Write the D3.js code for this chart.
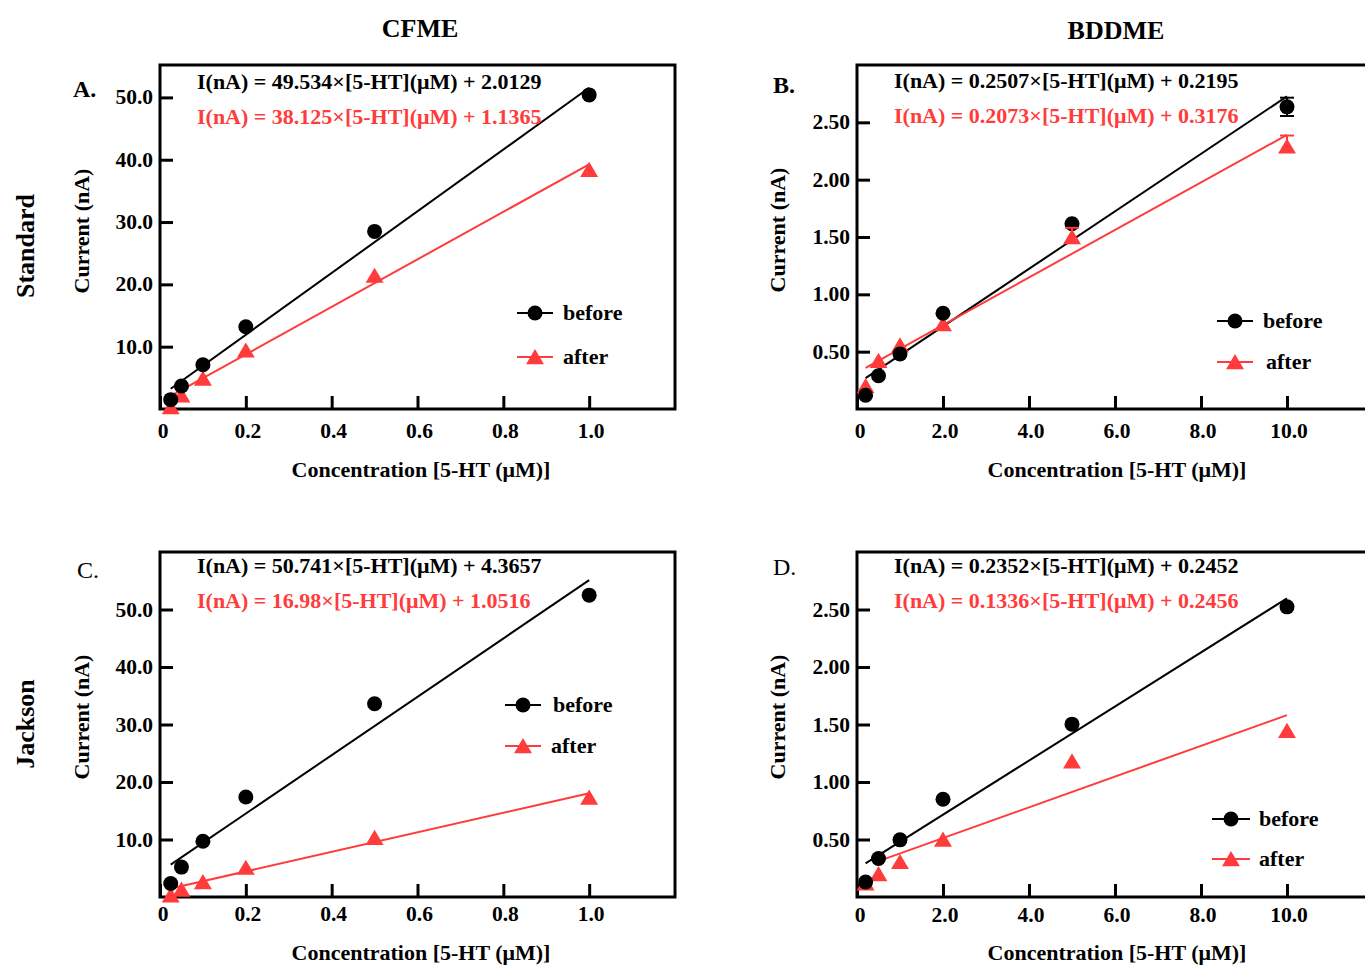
<!DOCTYPE html>
<html>
<head>
<meta charset="utf-8">
<script src="https://cdn.jsdelivr.net/npm/d3@7"></script>
<style>
  html, body { margin: 0; padding: 0; background: #fff; }
  svg { display: block; }
  text { font-family: "Liberation Serif", "DejaVu Serif", serif; }
</style>
</head>
<body>
<svg id="chart" width="1365" height="965"></svg>
<script>
// ---------------- DATA ----------------
const columnTitles = ["CFME", "BDDME"];
const rowTitles = ["Standard", "Jackson"];
const panelLetters = ["A.", "B.", "C.", "D."];
const seriesNames = ["before", "after"];

const concCFME = [0.025, 0.05, 0.1, 0.2, 0.5, 1.0];
const concBDDME = [0.2, 0.5, 1, 2, 5, 10];

const xTicksCFME = [0, 0.2, 0.4, 0.6, 0.8, 1.0];
const xTickLabelsCFME = ["0", "0.2", "0.4", "0.6", "0.8", "1.0"];
const xTicksBDDME = [0, 2, 4, 6, 8, 10];
const xTickLabelsBDDME = ["0", "2.0", "4.0", "6.0", "8.0", "10.0"];
const yTicksCFME = [10, 20, 30, 40, 50];
const yTickLabelsCFME = ["10.0", "20.0", "30.0", "40.0", "50.0"];
const yTicksBDDME = [0.5, 1.0, 1.5, 2.0, 2.5];
const yTickLabelsBDDME = ["0.50", "1.00", "1.50", "2.00", "2.50"];

const A_before = [1.5, 3.7, 7.1, 13.2, 28.5, 50.4];
const A_after  = [0.3, 2.2, 4.9, 9.4, 21.4, 38.4];
const B_before = [0.12, 0.29, 0.48, 0.835, 1.615, 2.635];
const B_after  = [0.20, 0.42, 0.555, 0.74, 1.50, 2.29];
const B_beforeErr = [0, 0, 0, 0, 0, 0.08];
const B_afterErr  = [0, 0, 0, 0, 0.08, 0.095];
const C_before = [2.35, 5.2, 9.7, 17.4, 33.6, 52.5];
const C_after  = [0.3, 1.3, 2.6, 5.1, 10.3, 17.3];
const D_before = [0.13, 0.335, 0.497, 0.85, 1.503, 2.523];
const D_after  = [0.12, 0.20, 0.305, 0.50, 1.18, 1.445];

// linear fits [slope, intercept, x start, x end]
const A_fitBefore = [49.534, 2.0129, 0.025, 1.0];
const A_fitAfter  = [38.125, 1.1365, 0.025, 1.0];
const B_fitBefore = [0.2507, 0.2195, 0.2, 10];
const B_fitAfter  = [0.2073, 0.3176, 0.2, 10];
const C_fitBefore = [50.741, 4.3657, 0.025, 1.0];
const C_fitAfter  = [16.98, 1.0516, 0.025, 1.0];
const D_fitBefore = [0.2352, 0.2452, 0.2, 10];
const D_fitAfter  = [0.1336, 0.2456, 0.5, 10];

const A_eq = ["I(nA) = 49.534×[5-HT](μM) + 2.0129", "I(nA) = 38.125×[5-HT](μM) + 1.1365"];
const B_eq = ["I(nA) = 0.2507×[5-HT](μM) + 0.2195", "I(nA) = 0.2073×[5-HT](μM) + 0.3176"];
const C_eq = ["I(nA) = 50.741×[5-HT](μM) + 4.3657", "I(nA) = 16.98×[5-HT](μM) + 1.0516"];
const D_eq = ["I(nA) = 0.2352×[5-HT](μM) + 0.2452", "I(nA) = 0.1336×[5-HT](μM) + 0.2456"];

const xAxisTitle = "Concentration [5-HT (μM)]";
const yAxisTitle = "Current (nA)";

// ---------------- STYLE / LAYOUT ----------------
const BLACK = "#000000";
const RED = "#ff3b3b";

const panels = [
  { letter: panelLetters[0], letterBold: true, letterPos: [73, 97],
    left: 160, right: 675, top: 65, bottom: 409, xMax: 1.2, yMax: 55.2,
    x: concCFME, before: A_before, after: A_after, beforeErr: null, afterErr: null,
    fitB: A_fitBefore, fitA: A_fitAfter, eq: A_eq, eqPos: [197, 89, 124],
    xTicks: xTicksCFME, xTickLabels: xTickLabelsCFME, yTicks: yTicksCFME, yTickLabels: yTickLabelsCFME,
    xLabBase: 438, xTitle: [421, 477], yTitle: [89, 231],
    legend: { x1: 517, x2: 553, y: [313, 357], tx: [563, 563] } },
  { letter: panelLetters[1], letterBold: true, letterPos: [773, 93],
    left: 857, right: 1373, top: 65, bottom: 409, xMax: 12, yMax: 3.0,
    x: concBDDME, before: B_before, after: B_after, beforeErr: B_beforeErr, afterErr: B_afterErr,
    fitB: B_fitBefore, fitA: B_fitAfter, eq: B_eq, eqPos: [894, 88, 123],
    xTicks: xTicksBDDME, xTickLabels: xTickLabelsBDDME, yTicks: yTicksBDDME, yTickLabels: yTickLabelsBDDME,
    xLabBase: 438, xTitle: [1117, 477], yTitle: [785, 230],
    legend: { x1: 1217, x2: 1253, y: [321, 362], tx: [1263, 1266] } },
  { letter: panelLetters[2], letterBold: false, letterPos: [77, 578],
    left: 160, right: 675, top: 552, bottom: 897, xMax: 1.2, yMax: 60,
    x: concCFME, before: C_before, after: C_after, beforeErr: null, afterErr: null,
    fitB: C_fitBefore, fitA: C_fitAfter, eq: C_eq, eqPos: [197, 573, 608],
    xTicks: xTicksCFME, xTickLabels: xTickLabelsCFME, yTicks: yTicksCFME, yTickLabels: yTickLabelsCFME,
    xLabBase: 921, xTitle: [421, 960], yTitle: [89, 717],
    legend: { x1: 505, x2: 541, y: [705, 746], tx: [553, 551] } },
  { letter: panelLetters[3], letterBold: false, letterPos: [773, 575],
    left: 857, right: 1373, top: 552, bottom: 897, xMax: 12, yMax: 3.0,
    x: concBDDME, before: D_before, after: D_after, beforeErr: null, afterErr: null,
    fitB: D_fitBefore, fitA: D_fitAfter, eq: D_eq, eqPos: [894, 573, 608],
    xTicks: xTicksBDDME, xTickLabels: xTickLabelsBDDME, yTicks: yTicksBDDME, yTickLabels: yTickLabelsBDDME,
    xLabBase: 922, xTitle: [1117, 960], yTitle: [785, 717],
    legend: { x1: 1212, x2: 1250, y: [819, 859], tx: [1259, 1259] } }
];

const svg = d3.select("#chart");

// Column headers
svg.append("text").attr("x", 420).attr("y", 37).attr("text-anchor", "middle")
  .attr("font-size", 26).attr("font-weight", "bold").text(columnTitles[0]);
svg.append("text").attr("x", 1116).attr("y", 39).attr("text-anchor", "middle")
  .attr("font-size", 26).attr("font-weight", "bold").text(columnTitles[1]);
// Row titles
[[246, rowTitles[0]], [724, rowTitles[1]]].forEach(([cy, t]) => {
  svg.append("text").attr("transform", `translate(34,${cy}) rotate(-90)`)
    .attr("text-anchor", "middle").attr("font-size", 26).attr("font-weight", "bold").text(t);
});

const triPath = (s) => `M0,${-s * 0.5}L${s * 0.56},${s * 0.45}L${-s * 0.56},${s * 0.45}Z`;

function drawPanel(p) {
  const g = svg.append("g");
  const x = d3.scaleLinear().domain([0, p.xMax]).range([p.left, p.right]);
  const y = d3.scaleLinear().domain([0, p.yMax]).range([p.bottom, p.top]);

  // axes with inward ticks
  const xAxis = d3.axisTop(x).tickValues(p.xTicks).tickSize(13).tickFormat("");
  g.append("g").attr("transform", `translate(0,${p.bottom})`).call(xAxis)
    .call(s => { s.select(".domain").remove(); s.selectAll("line").attr("stroke-width", 3); });
  const yAxis = d3.axisRight(y).tickValues(p.yTicks).tickSize(13).tickFormat("");
  g.append("g").attr("transform", `translate(${p.left},0)`).call(yAxis)
    .call(s => { s.select(".domain").remove(); s.selectAll("line").attr("stroke-width", 3); });

  // tick labels
  g.selectAll(".xl").data(p.xTicks).enter().append("text")
    .attr("x", d => x(d) + (d === 0 ? 3 : 2)).attr("y", p.xLabBase)
    .attr("text-anchor", "middle").attr("font-size", 21.5).attr("font-weight", "bold")
    .text((d, i) => p.xTickLabels[i]);
  g.selectAll(".yl").data(p.yTicks).enter().append("text")
    .attr("x", p.left - 7).attr("y", d => y(d) + 7)
    .attr("text-anchor", "end").attr("font-size", 21.5).attr("font-weight", "bold")
    .text((d, i) => p.yTickLabels[i]);

  // frame
  g.append("rect").attr("x", p.left).attr("y", p.top)
    .attr("width", p.right - p.left).attr("height", p.bottom - p.top)
    .attr("fill", "none").attr("stroke", "#000").attr("stroke-width", 3);

  // fit lines
  [[p.fitB, BLACK], [p.fitA, RED]].forEach(([f, c]) => {
    const pts = [f[2], f[3]].map(v => [x(v), y(f[0] * v + f[1])]);
    g.append("path").attr("d", d3.line()(pts)).attr("stroke", c).attr("stroke-width", 2).attr("fill", "none");
  });

  // markers: after (triangles) then before (circles)
  g.selectAll(".tri").data(p.after).enter().append("path")
    .attr("transform", (d, i) => `translate(${x(p.x[i])},${y(d)})`)
    .attr("d", triPath(16)).attr("fill", RED);
  g.selectAll(".cir").data(p.before).enter().append("circle")
    .attr("cx", (d, i) => x(p.x[i])).attr("cy", d => y(d)).attr("r", 7.5).attr("fill", BLACK);

  // error bars (before: both directions, after: upper only)
  function errBars(vals, errs, c, both) {
    if (!errs) return;
    vals.forEach((v, i) => {
      const e = errs[i]; if (!e) return;
      const cx = x(p.x[i]);
      const lo = both ? v - e : v;
      g.append("line").attr("x1", cx).attr("x2", cx).attr("y1", y(lo)).attr("y2", y(v + e)).attr("stroke", c).attr("stroke-width", 2);
      (both ? [v - e, v + e] : [v + e]).forEach(w => g.append("line").attr("x1", cx - 7).attr("x2", cx + 7)
        .attr("y1", y(w)).attr("y2", y(w)).attr("stroke", c).attr("stroke-width", 2));
    });
  }
  errBars(p.before, p.beforeErr, BLACK, true);
  errBars(p.after, p.afterErr, RED, false);

  // equations
  g.append("text").attr("x", p.eqPos[0]).attr("y", p.eqPos[1]).attr("font-size", 22)
    .attr("font-weight", "bold").attr("fill", BLACK).text(p.eq[0]);
  g.append("text").attr("x", p.eqPos[0]).attr("y", p.eqPos[2]).attr("font-size", 22)
    .attr("font-weight", "bold").attr("fill", RED).text(p.eq[1]);

  // panel letter
  g.append("text").attr("x", p.letterPos[0]).attr("y", p.letterPos[1]).attr("font-size", 24)
    .attr("font-weight", p.letterBold ? "bold" : "normal").text(p.letter);

  // axis titles
  g.append("text").attr("x", p.xTitle[0]).attr("y", p.xTitle[1]).attr("text-anchor", "middle")
    .attr("font-size", 22).attr("font-weight", "bold").text(xAxisTitle);
  g.append("text").attr("transform", `translate(${p.yTitle[0]},${p.yTitle[1]}) rotate(-90)`)
    .attr("text-anchor", "middle").attr("font-size", 22).attr("font-weight", "bold").text(yAxisTitle);

  // legend
  const L = p.legend;
  const cx = (L.x1 + L.x2) / 2;
  [BLACK, RED].forEach((c, i) => {
    g.append("line").attr("x1", L.x1).attr("x2", L.x2).attr("y1", L.y[i]).attr("y2", L.y[i])
      .attr("stroke", c).attr("stroke-width", 2);
    if (i === 0) g.append("circle").attr("cx", cx).attr("cy", L.y[i]).attr("r", 7.5).attr("fill", c);
    else g.append("path").attr("transform", `translate(${cx},${L.y[i]})`).attr("d", triPath(16)).attr("fill", c);
    g.append("text").attr("x", L.tx[i]).attr("y", L.y[i] + 7).attr("font-size", 22)
      .attr("font-weight", "bold").text(seriesNames[i]);
  });
}

panels.forEach(drawPanel);
</script>
</body>
</html>
